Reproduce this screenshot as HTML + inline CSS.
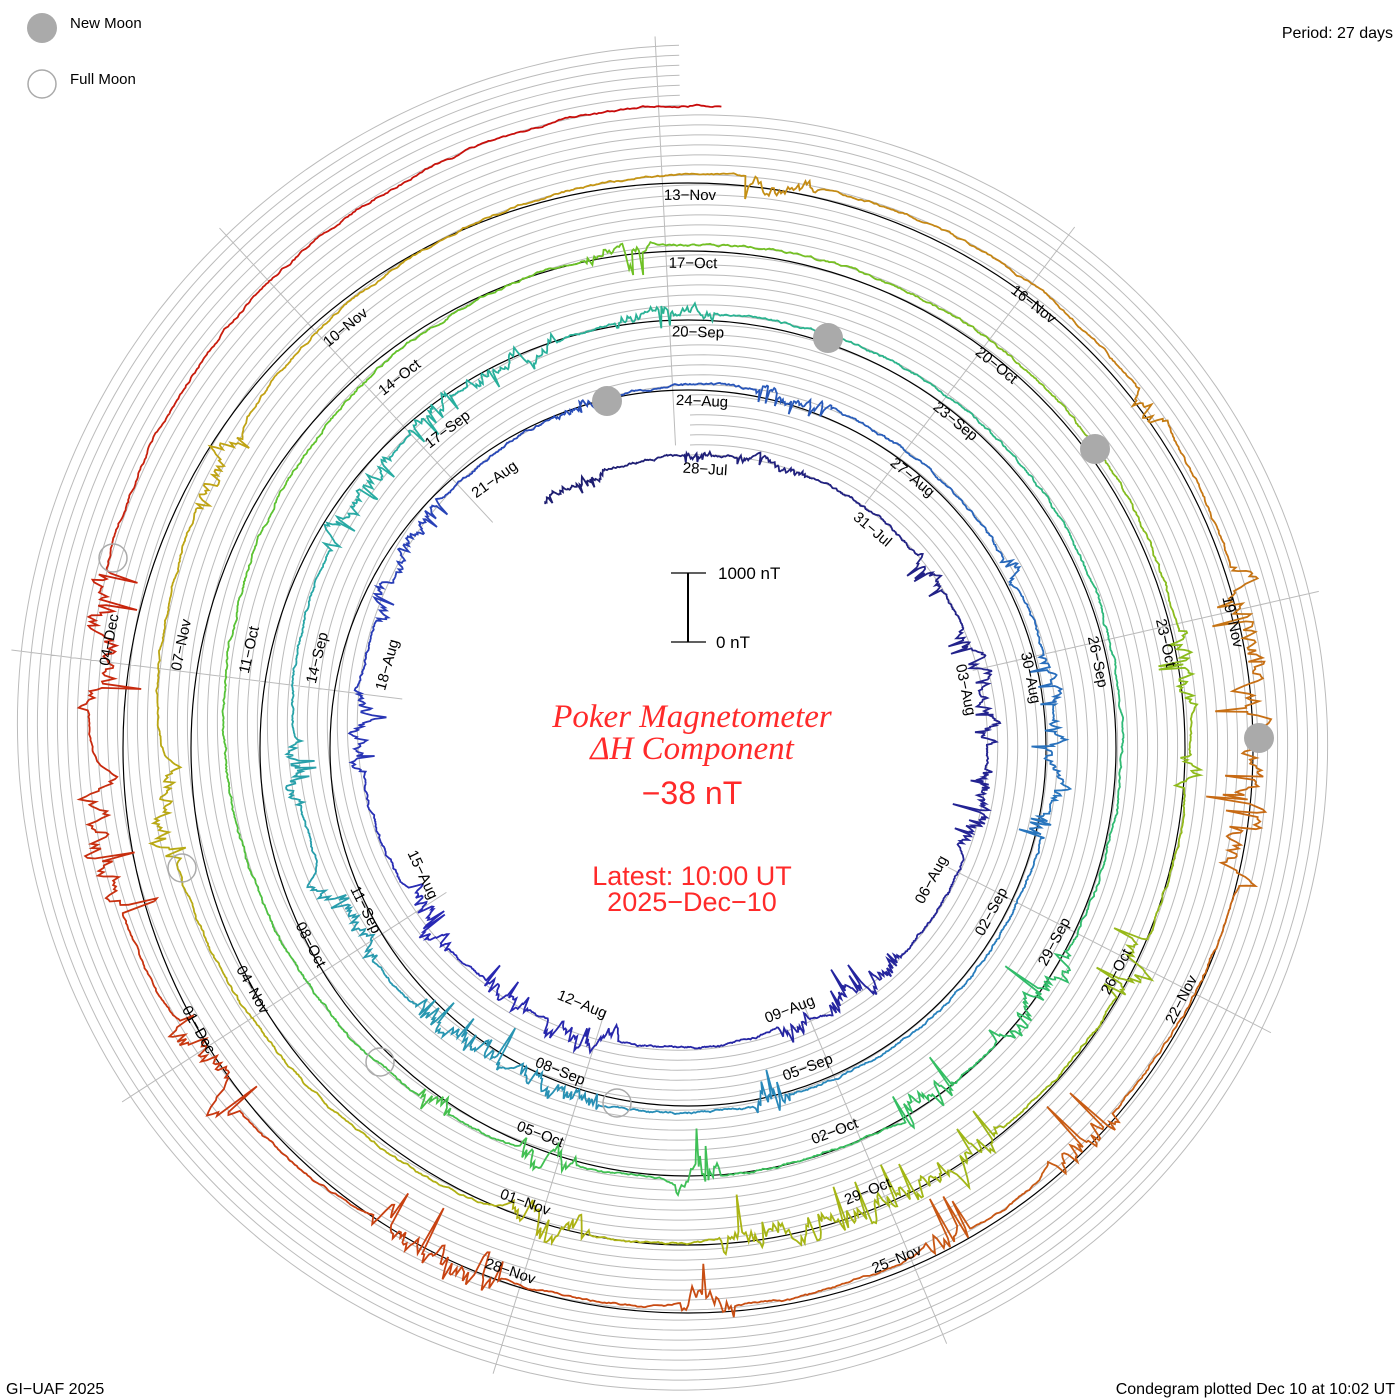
<!DOCTYPE html>
<html><head><meta charset="utf-8"><style>
html,body{margin:0;padding:0;background:#fff;}
svg{display:block;font-family:"Liberation Sans",sans-serif;}
.lab{font-size:15px;fill:#000;text-anchor:middle;dominant-baseline:middle;}
</style></head><body>
<svg id="s" width="1400" height="1400" viewBox="0 0 1400 1400" xmlns="http://www.w3.org/2000/svg">
<g id="grid"></g>
<g id="blk" fill="none" stroke="#000" stroke-width="1.2">
<circle cx="688" cy="748" r="358"/><circle cx="688" cy="748" r="428"/><circle cx="688" cy="748" r="497"/><circle cx="688" cy="748" r="565"/>
</g>
<g id="data"></g>
<g id="moons">
<circle cx="607" cy="401" r="15" fill="#aaa"/><circle cx="828" cy="338" r="15" fill="#aaa"/><circle cx="1095" cy="449" r="15" fill="#aaa"/><circle cx="1259" cy="738" r="15" fill="#aaa"/>
<g fill="none" stroke="#aaa" stroke-width="1.5"><circle cx="113" cy="558" r="14"/><circle cx="182" cy="868" r="14"/><circle cx="380" cy="1062" r="14"/><circle cx="617" cy="1103" r="14"/></g>
</g>
<g id="labs">
<text class="lab" x="705" y="470">28−Jul</text><text class="lab" x="872" y="530">31−Jul</text><text class="lab" x="965" y="690">03−Aug</text><text class="lab" x="932" y="880">06−Aug</text><text class="lab" x="790" y="1010">09−Aug</text><text class="lab" x="582" y="1005">12−Aug</text><text class="lab" x="422" y="875">15−Aug</text><text class="lab" x="388" y="665">18−Aug</text><text class="lab" x="495" y="480">21−Aug</text>
<text class="lab" x="702" y="402">24−Aug</text><text class="lab" x="912" y="478">27−Aug</text><text class="lab" x="1030" y="678">30−Aug</text><text class="lab" x="992" y="912">02−Sep</text><text class="lab" x="808" y="1068">05−Sep</text><text class="lab" x="560" y="1072">08−Sep</text><text class="lab" x="365" y="910">11−Sep</text><text class="lab" x="318" y="658">14−Sep</text><text class="lab" x="448" y="430">17−Sep</text>
<text class="lab" x="698" y="333">20−Sep</text><text class="lab" x="955" y="422">23−Sep</text><text class="lab" x="1097" y="662">26−Sep</text><text class="lab" x="1055" y="942">29−Sep</text><text class="lab" x="835" y="1132">02−Oct</text><text class="lab" x="540" y="1135">05−Oct</text><text class="lab" x="310" y="945">08−Oct</text><text class="lab" x="250" y="650">11−Oct</text><text class="lab" x="400" y="378">14−Oct</text>
<text class="lab" x="693" y="264">17−Oct</text><text class="lab" x="996" y="366">20−Oct</text><text class="lab" x="1165" y="643">23−Oct</text><text class="lab" x="1117" y="972">26−Oct</text><text class="lab" x="868" y="1192">29−Oct</text><text class="lab" x="525" y="1203">01−Nov</text><text class="lab" x="252" y="990">04−Nov</text><text class="lab" x="182" y="645">07−Nov</text><text class="lab" x="346" y="328">10−Nov</text>
<text class="lab" x="690" y="196">13−Nov</text><text class="lab" x="1033" y="305">16−Nov</text><text class="lab" x="1232" y="622">19−Nov</text><text class="lab" x="1182" y="1000">22−Nov</text><text class="lab" x="897" y="1260">25−Nov</text><text class="lab" x="510" y="1272">28−Nov</text><text class="lab" x="198" y="1030">01−Dec</text><text class="lab" x="110" y="640">04−Dec</text>
</g>
<g stroke="#000" stroke-width="2"><line x1="688" y1="573" x2="688" y2="642"/></g>
<g stroke="#000" stroke-width="1.2"><line x1="671" y1="573" x2="706" y2="573"/><line x1="671" y1="642" x2="706" y2="642"/></g>
<text x="718" y="579" font-size="17">1000 nT</text>
<text x="716" y="648" font-size="17">0 nT</text>
<g fill="#ff2a2a" text-anchor="middle">
<text x="692" y="727" font-size="33" font-style="italic" font-family="Liberation Serif,serif">Poker Magnetometer</text>
<text x="692" y="759" font-size="33" font-style="italic" font-family="Liberation Serif,serif">ΔH Component</text>
<text x="692" y="804" font-size="32">−38 nT</text>
<text x="692" y="885" font-size="27">Latest: 10:00 UT</text>
<text x="692" y="911" font-size="27">2025−Dec−10</text>
</g>
<circle cx="42" cy="28" r="15" fill="#aaa"/><circle cx="42" cy="84" r="14" fill="none" stroke="#aaa" stroke-width="1.5"/>
<text x="70" y="28" font-size="15">New Moon</text><text x="70" y="84" font-size="15">Full Moon</text>
<text x="1393" y="38" font-size="16" text-anchor="end">Period: 27 days</text>
<text x="6" y="1394" font-size="16">GI−UAF 2025</text>
<text x="1395" y="1394" font-size="16" text-anchor="end">Condegram plotted Dec 10 at 10:02 UT</text>
</svg>
<script>
var cx=690,cy=735,NS="http://www.w3.org/2000/svg";
function P(r,f){return [cx+r*Math.sin(f),cy-r*Math.cos(f)];}
var g=document.getElementById('grid'),d='';
for(var i=0;i<7;i++){var b=280+i*10;d+='M';for(var f=0;f<=10*Math.PI;f+=0.02){var p=P(b+70*f/(2*Math.PI),f);d+=p[0].toFixed(1)+' '+p[1].toFixed(1)+' L';}d=d.slice(0,-2);}
for(var k=0;k<9;k++){var f=-0.05+k*2*Math.PI/9;var a=P(290,f),c=P(350+70*4+70*((f+2*Math.PI)%(2*Math.PI))/(2*Math.PI),f);d+='M'+a[0]+' '+a[1]+'L'+c[0]+' '+c[1];}
var pg=document.createElementNS(NS,'path');pg.setAttribute('d',d);pg.setAttribute('fill','none');pg.setAttribute('stroke','#bbb');pg.setAttribute('stroke-width','1');g.appendChild(pg);
var seed=7;function rnd(){seed=(seed*16807)%2147483647;return seed/2147483647;}
var stops=[[0,30,30,110],[0.75,40,40,180],[1.5,40,130,190],[2.0,40,175,160],[2.5,50,190,100],[3.0,100,195,40],[3.6,170,180,20],[4.0,195,160,20],[4.5,200,90,20],[5.1,200,10,10]];
function col(t){for(var i=0;i<stops.length-1;i++){if(t<=stops[i+1][0]||i==stops.length-2){var a=stops[i],b=stops[i+1];var u=Math.max(0,Math.min(1,(t-a[0])/(b[0]-a[0])));return 'rgb('+[1,2,3].map(function(j){return Math.round(a[j]+(b[j]-a[j])*u)}).join(',')+')';}}}
var dg=document.getElementById('data');var f0=-0.56,f1=10*Math.PI+0.05,N=9000,w=0,segD='',burst=0;
for(var n=0;n<=N;n++){var f=f0+(f1-f0)*n/N;var rev=f/(2*Math.PI);var base=280+70*rev;
 var ang=((f%(2*Math.PI))+2*Math.PI)%(2*Math.PI);var bottom=(1-Math.cos(ang))/2;
 if(burst>0)burst--;else if(rnd()<0.004+bottom*0.006)burst=Math.floor(20+rnd()*60);
 var amp=1.5+(burst>0?(4+rev*2+bottom*8):0);w=w*0.85+(rnd()-0.5)*amp;var sp=0;if(burst>0&&rnd()<0.08)sp=-rnd()*(10+rev*5+bottom*20);
 var off=-bottom*rev*5;
 var p=P(base+w+sp+off,f);segD+=(segD?'L':'M')+p[0].toFixed(1)+' '+p[1].toFixed(1);
 if(n%60==0&&n>0||n==N){var pa=document.createElementNS(NS,'path');pa.setAttribute('d',segD);pa.setAttribute('fill','none');pa.setAttribute('stroke',col(rev+0.09));pa.setAttribute('stroke-width','1.8');dg.appendChild(pa);segD='M'+p[0].toFixed(1)+' '+p[1].toFixed(1);}
}
var ls=document.querySelectorAll('#labs text');
for(var i=0;i<ls.length;i++){var x=+ls[i].getAttribute('x'),y=+ls[i].getAttribute('y');var r=Math.atan2(x-688,-(y-748))*180/Math.PI;if(r>90)r-=180;if(r<-90)r+=180;ls[i].setAttribute('transform','rotate('+r.toFixed(1)+' '+x+' '+y+')');}
</script>
</body></html>
